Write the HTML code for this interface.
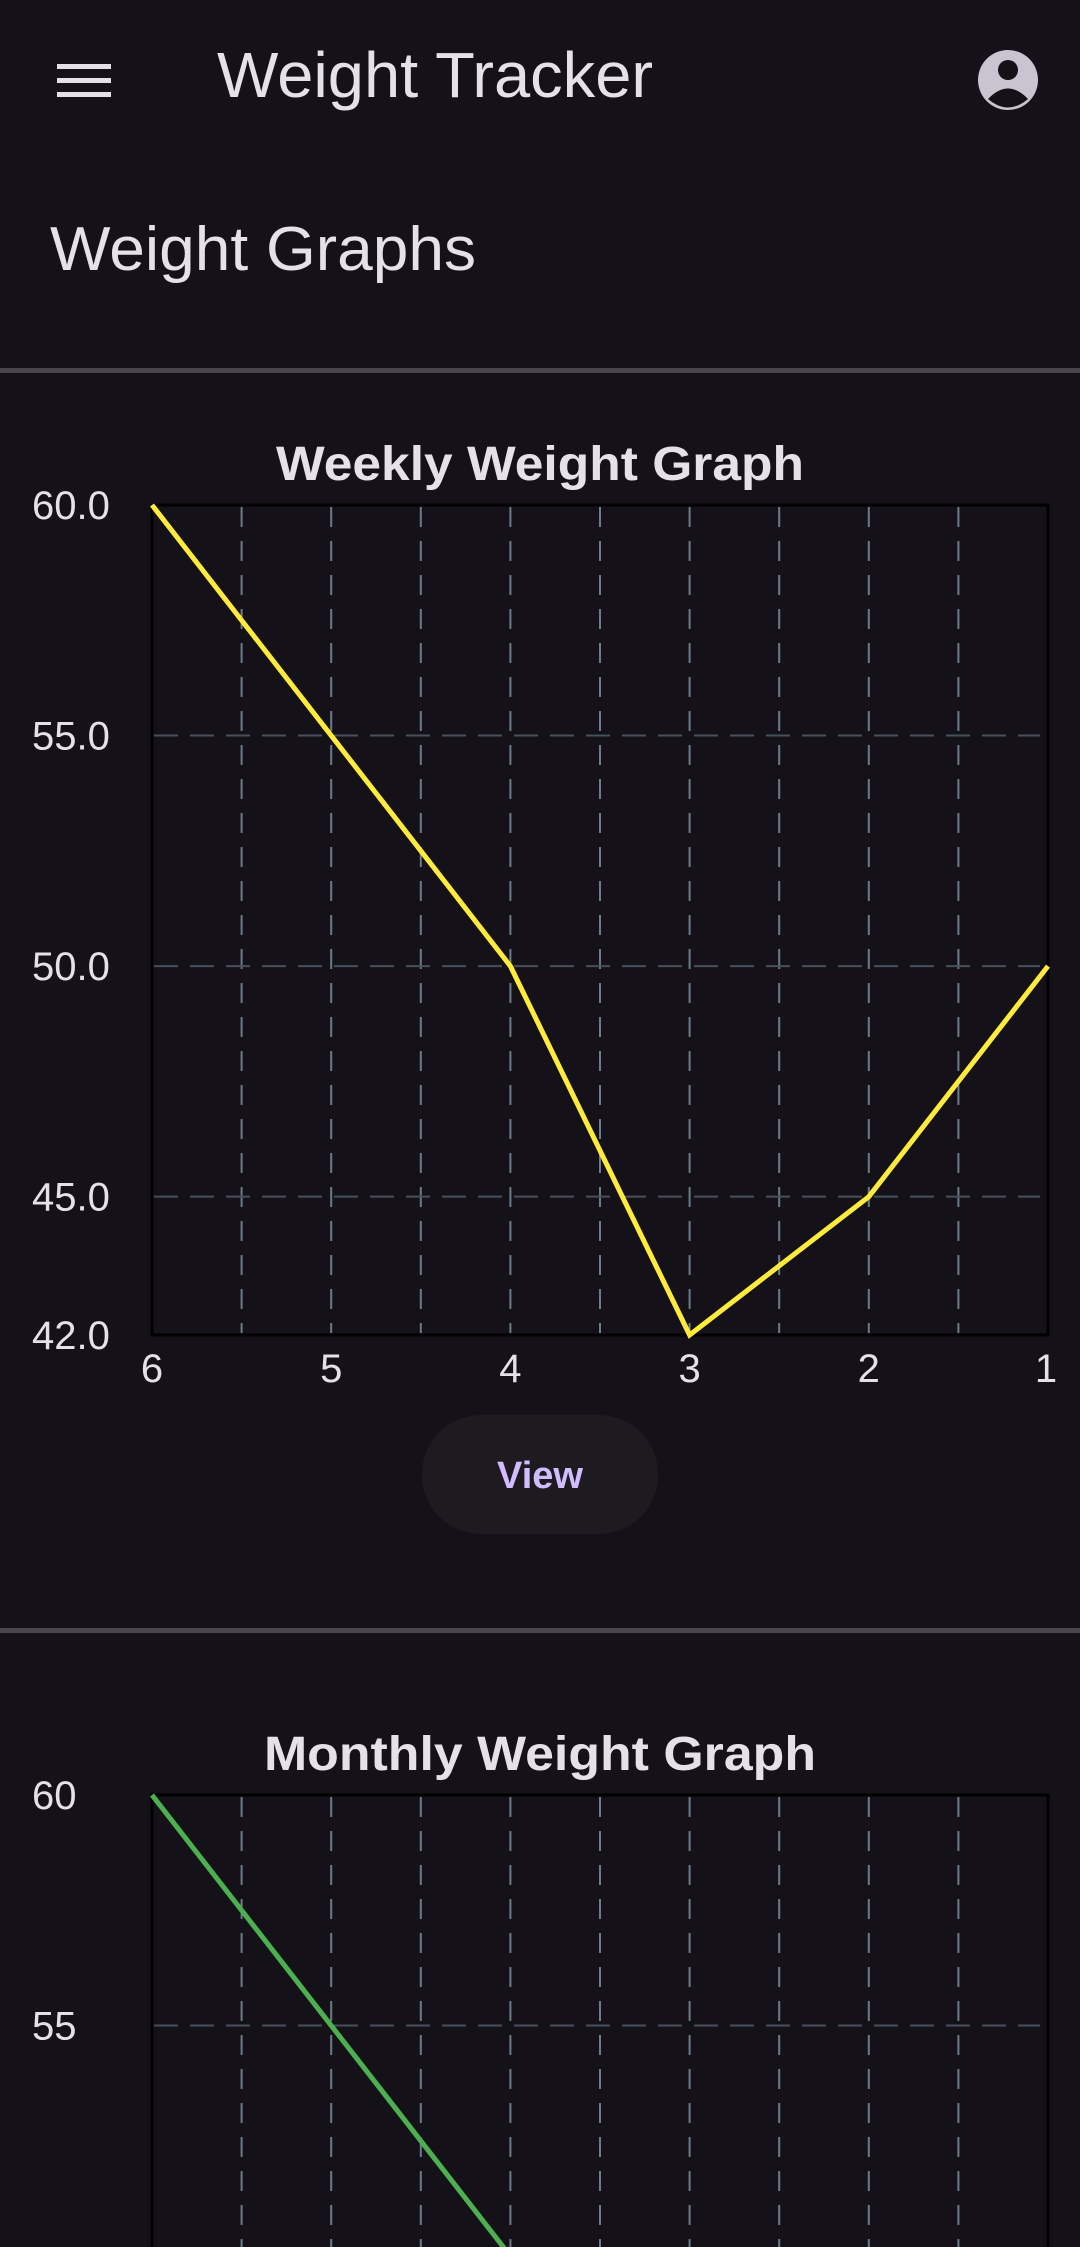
<!DOCTYPE html>
<html><head><meta charset="utf-8">
<style>
html,body{margin:0;padding:0;background:#141218;}
body{width:1080px;height:2247px;overflow:hidden;position:relative;font-family:"Liberation Sans",sans-serif;}
svg{position:absolute;left:0;top:0;}
</style></head>
<body>
<svg id="s" width="1080" height="2247" viewBox="0 0 1080 2247">
  <g>
    <g fill="#e6e0e9">
      <rect x="57" y="64" width="54" height="5"/>
      <rect x="57" y="78" width="54" height="5"/>
      <rect x="57" y="92" width="54" height="5"/>
    </g>
    <text x="217" y="97" font-size="64" fill="#e6e0e9" textLength="436" lengthAdjust="spacingAndGlyphs">Weight Tracker</text>
    <g>
      <circle cx="1008" cy="80" r="30" fill="#cac4d0"/>
      <circle cx="1008" cy="70" r="10" fill="#141218"/>
      <path d="M988 99 Q1008 78 1028 99 Q1008 116 988 99Z" fill="#141218"/>
    </g>
  </g>
  <text x="50" y="270" font-size="62" fill="#e6e0e9" textLength="426" lengthAdjust="spacingAndGlyphs">Weight Graphs</text>
  <rect x="0" y="368" width="1080" height="5" fill="#48464c"/>
  <rect x="0" y="1628" width="1080" height="5" fill="#48464c"/>
  <g>
    <rect x="422" y="1415" width="236" height="119" rx="59" fill="#1d1b20"/>
    <text x="540" y="1488" font-size="38" fill="#d0bcff" text-anchor="middle" font-weight="bold">View</text>
  </g>
  <g id="weekly"></g>
  <g id="monthly"></g>
</svg>
<script>
const weeklyCategories = ["6","5","4","3","2","1"];
const weeklyValues = [60, 55, 50, 42, 45, 50];
const weeklyYTicks = ["60.0","55.0","50.0","45.0","42.0"];
const weeklyYTickValues = [60, 55, 50, 45, 42];

const monthlyCategories = ["6","5","4","3","2","1"];
const monthlyValues = [60, 55, 50, 45, 44, 46];
const monthlyYTicks = ["60","55"];
const monthlyYTickValues = [60, 55];

const NS = "http://www.w3.org/2000/svg";
function mk(tag, attrs, parent){
  const e = document.createElementNS(NS, tag);
  for (const k in attrs) e.setAttribute(k, attrs[k]);
  parent.appendChild(e);
  return e;
}
function drawChart(g, name, title, cats, vals, yTicks, yTickVals, color, top, yMin, yMax, titleLen){
  const L = 152, R = 1048, T = top, B = top + 830;
  const x = i => L + (R - L) * i / (cats.length - 1);
  const y = v => B - (B - T) * (v - yMin) / (yMax - yMin);
  const t = mk("text", {x: 540, y: T - 25, "font-size": 48, "font-weight": "bold", fill: "#e6e0e9", "text-anchor": "middle", textLength: titleLen, lengthAdjust: "spacingAndGlyphs"}, g);
  
  
  t.textContent = title;
  const bg = mk("rect", {x: L, y: T, width: R - L, height: B - T, fill: "#141218", stroke: "#000", "stroke-width": 3}, g);
  
  
  const n = (cats.length - 1) * 2;
  for (let k = 1; k < n; k++){
    const gx = L + (R - L) * k / n;
    const gl = mk("line", {x1: gx, y1: T + 2, x2: gx, y2: B - 2, stroke: "#6a7c8a", "stroke-width": 2, "stroke-dasharray": "20 14"}, g);
    
    
  }
  yTickVals.forEach((v, i) => {
    if (v !== yMin && v !== yMax){
      const hl = mk("line", {x1: L + 2, y1: y(v), x2: R - 8, y2: y(v), stroke: "#46505a", "stroke-width": 2, "stroke-dasharray": "24 12"}, g);
      
      
    }
    const lb = mk("text", {x: 32, y: y(v) + 14, "font-size": 40, fill: "#e6e0e9"}, g);
    
    
    lb.textContent = yTicks[i];
  });
  cats.forEach((c, i) => {
    const xl = mk("text", {x: i === cats.length - 1 ? R - 2 : x(i), y: B + 47, "font-size": 40, fill: "#e6e0e9", "text-anchor": "middle"}, g);
    
    
    xl.textContent = c;
  });
  const pts = vals.map((v, i) => x(i) + "," + y(v)).join(" ");
  const pl = mk("polyline", {points: pts, fill: "none", stroke: color, "stroke-width": 5, "stroke-linejoin": "miter"}, g);
  
  
}
const wg = document.getElementById("weekly");


drawChart(wg, "weekly", "Weekly Weight Graph", weeklyCategories, weeklyValues, weeklyYTicks, weeklyYTickValues, "#ffeb3b", 505, 42, 60, 528);
const mg = document.getElementById("monthly");


drawChart(mg, "monthly", "Monthly Weight Graph", monthlyCategories, monthlyValues, monthlyYTicks, monthlyYTickValues, "#4caf50", 1795, 42, 60, 552);
</script>
</body></html>
